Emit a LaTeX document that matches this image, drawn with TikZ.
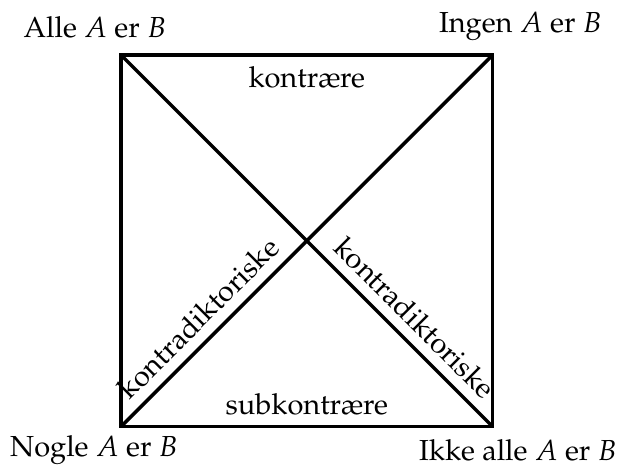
\documentclass[tikz,border=0pt]{standalone}
\usepackage[T1]{fontenc}
\usepackage{mathpazo}
\usetikzlibrary{positioning}

\begin{document}
\begin{tikzpicture}[
  side/.style={line width=1.2pt, line join=miter},
  corner/.style={anchor=base, inner sep=0pt},
  rel/.style={inner sep=3.33pt}]
\useasboundingbox (-1.47,-0.47) rectangle (6.06,5.17);
% corners of the square
\coordinate (A) at (0,4.5);
\coordinate (E) at (4.5,4.5);
\coordinate (I) at (0,0);
\coordinate (O) at (4.5,0);
% sides and diagonals
\draw[side] (A) -- node[rel, below] (contr) {kontrære} (E)
  -- (O) -- node[rel, above] (subcontr) {subkontrære} (I) -- cycle;
\draw[side] (I) -- node[rel, pos=0.25, sloped, above] (diagI) {kontradiktoriske} (E);
\draw[side] (A) -- node[rel, pos=0.75, sloped, above] (diagA) {kontradiktoriske} (O);
% corner labels
\node[corner] (alle) at (-0.32,4.72) {Alle $A$ er $B$};
\node[corner] (ingen) at (4.84,4.77) {Ingen $A$ er $B$};
\node[corner] (nogle) at (-0.33,-0.36) {Nogle $A$ er $B$};
\node[corner] (ikke) at (4.81,-0.42) {Ikke alle $A$ er $B$};
\end{tikzpicture}
\end{document}
